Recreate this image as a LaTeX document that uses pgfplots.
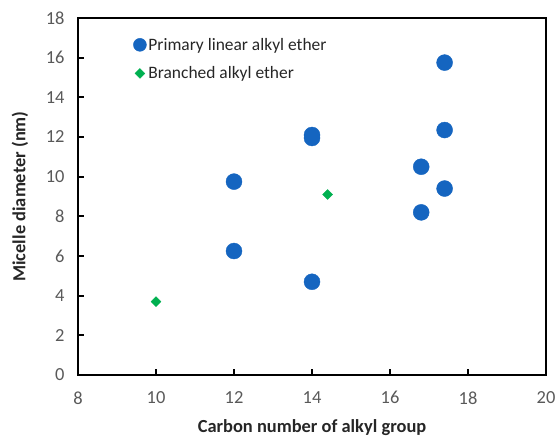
\documentclass[border=0pt]{standalone}
\usepackage{fontspec}
\setmainfont{Carlito}
\usepackage{pgfplots}
\pgfplotsset{compat=1.18}
\definecolor{ptblue}{RGB}{21,101,192}
\definecolor{ptgreen}{RGB}{0,176,80}
\definecolor{ticklab}{RGB}{89,89,89}
\definecolor{labcol}{RGB}{38,38,38}
\begin{document}
\begin{tikzpicture}[x=1bp,y=1bp]
\begin{axis}[
  at={(0,0)}, anchor=south west,
  scale only axis, width=468bp, height=357bp,
  xmin=8, xmax=20, ymin=0, ymax=18,
  xtick={8,10,...,20}, ytick={0,2,...,18},
  tick align=inside, xtick pos=bottom, ytick pos=left,
  major tick length=6bp,
  axis line style={line width=2.5bp, black},
  every tick/.style={line width=2bp, black},
  /pgf/number format/assume math mode=true,
  ticklabel style={font=\fontsize{18.5}{22}\selectfont, text=ticklab},
  xticklabel style={yshift=-13bp},
  yticklabel style={xshift=-10bp},
  xlabel={Carbon number of alkyl group},
  ylabel={Micelle diameter (nm)},
  label style={font=\bfseries\fontsize{18.5}{22}\selectfont, text=labcol},
  xlabel style={at={(axis description cs:0.5,-0.148)}, anchor=center},
  ylabel style={at={(axis description cs:-0.124,0.5)}, anchor=center},
  legend style={draw=none, fill=none, at={(axis description cs:0.118,0.95)}, anchor=north west,
    font=\fontsize{17.5}{21}\selectfont, text=labcol, row sep=11bp, inner sep=0pt},
  legend cell align=left,
]
\draw[line width=2.5bp, black] (rel axis cs:0,0) rectangle (rel axis cs:1,1);
\addplot[only marks, mark=*, mark size=8bp, color=ptblue, mark options={draw=ptblue, fill=ptblue},
  legend image post style={mark size=6.5bp}]
  coordinates {(12,9.75) (12,6.25) (14,12.1) (14,11.95) (14,4.7) (16.8,10.5) (16.8,8.2) (17.4,15.75) (17.4,12.35) (17.4,9.4)};
\addlegendentry{Primary linear alkyl ether}
\addplot[only marks, mark=square*, mark size=3.5bp, color=ptgreen, mark options={rotate=45, draw=ptgreen, fill=ptgreen}]
  coordinates {(10,3.7) (14.4,9.1)};
\addlegendentry{Branched alkyl ether}
\end{axis}
\pgfresetboundingbox
\path (-78,-62) rectangle (481,375);
\end{tikzpicture}
\end{document}
